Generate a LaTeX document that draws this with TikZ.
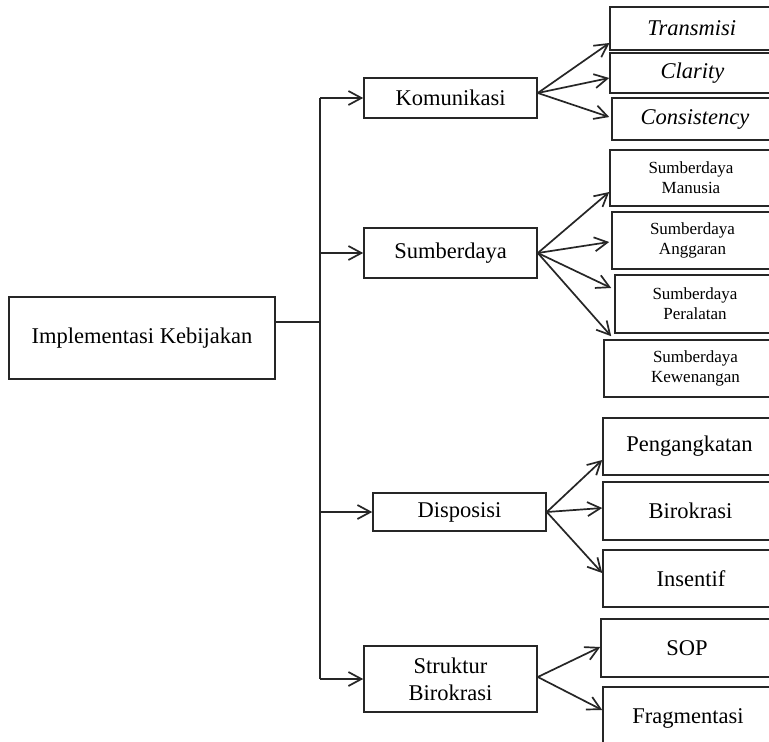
\documentclass[tikz,border=0pt]{standalone}
\usepackage{fontspec}
\setmainfont{Liberation Serif}
\usetikzlibrary{arrows.meta}
\begin{document}
\begin{tikzpicture}[x=1pt,y=-1pt,
  box/.style={draw=black!85, line width=1.6pt, inner sep=0pt, align=center, font=\fontsize{22.5}{27}\selectfont},
  sbox/.style={box, font=\fontsize{17}{20}\selectfont},
  ibox/.style={box, font=\fontsize{22.5}{27}\selectfont\itshape},
  arr/.style={draw=black!85, line width=1.7pt, -{Straight Barb[length=13pt,width=14pt,line width=1.7pt]}},
  ln/.style={draw=black!85, line width=1.7pt}]
\clip (0,0) rectangle (769,742);
\fill[white] (0,0) rectangle (769,742);
% left
\node[box, minimum width=266pt, minimum height=82pt] (main) at (142,338) {Implementasi Kebijakan};
% middle column
\node[box, minimum width=173pt, minimum height=40pt] (kom) at (450.5,98) {Komunikasi};
\node[box, minimum width=173pt, minimum height=50pt] (sum) at (450.5,253) {Sumberdaya};
\node[box, minimum width=173pt, minimum height=38pt] (dis) at (459.5,512) {Disposisi};
\node[box, minimum width=173pt, minimum height=66pt] (str) at (450.5,679) {Struktur\\Birokrasi};
% right column
\node[ibox, minimum width=163pt, minimum height=43pt] (tra) at (691.7,28.5) {Transmisi};
\node[ibox, minimum width=165pt, minimum height=40pt] (cla) at (692.5,73) {Clarity};
\node[ibox, minimum width=166pt, minimum height=42pt] (con) at (695,119) {Consistency};
\node[sbox, minimum width=162pt, minimum height=56pt] (man) at (691,178) {Sumberdaya\\Manusia};
\node[sbox, minimum width=161pt, minimum height=57pt] (ang) at (692.5,240.5) {Sumberdaya\\Anggaran};
\node[sbox, minimum width=160pt, minimum height=58pt] (per) at (695,304) {Sumberdaya\\Peralatan};
\node[sbox, minimum width=183pt, minimum height=57pt] (kew) at (695.5,368.5) {Sumberdaya\\Kewenangan};
\node[box, minimum width=173pt, minimum height=57pt] (pen) at (689.5,446.5) {Pengangkatan};
\node[box, minimum width=175pt, minimum height=58pt] (bir) at (690.5,511) {Birokrasi};
\node[box, minimum width=176pt, minimum height=57pt] (ins) at (691,578.5) {Insentif};
\node[box, minimum width=172pt, minimum height=58pt] (sop) at (687,648) {SOP};
\node[box, minimum width=170pt, minimum height=63pt] (fra) at (688,718.5) {Fragmentasi};
% trunk
\coordinate (j) at (320,322);
\coordinate (t1) at (j |- kom.west);
\coordinate (t4) at (j |- str.west);
\draw[ln] (main.east |- j) -- (j);
\draw[ln] (t1) -- (t4);
\draw[arr] (t1) -- (kom.west);
\draw[arr] (j |- sum.west) -- (sum.west);
\draw[arr] (j |- dis.west) -- (dis.west);
\draw[arr] (t4) -- (str.west);
% Komunikasi fan
\coordinate (ko) at ([yshift=5pt]kom.east);
\draw[arr] (ko) -- ([yshift=-14.5pt]tra.west);
\draw[arr] (ko) -- ([yshift=-5pt]cla.west);
\draw[arr] (ko) -- ([yshift=2pt,xshift=-2pt]con.west);
% Sumberdaya fan
\draw[arr] (sum.east) -- ([yshift=-14pt]man.west);
\draw[arr] (sum.east) -- ([yshift=-1.5pt,xshift=-2pt]ang.west);
\draw[arr] (sum.east) -- ([yshift=16pt,xshift=-3pt]per.west);
\draw[arr] (sum.east) -- ([xshift=8pt,yshift=3pt]kew.north west);
% Disposisi fan
\draw[arr] (dis.east) -- ([yshift=-13.5pt]pen.west);
\draw[arr] (dis.east) -- ([yshift=3pt]bir.west);
\draw[arr] (dis.east) -- ([yshift=5.5pt]ins.west);
% Struktur fan
\coordinate (so) at ([yshift=2pt]str.east);
\draw[arr] (so) -- ([yshift=1pt]sop.west);
\draw[arr] (so) -- ([yshift=8.5pt]fra.west);
\end{tikzpicture}
\end{document}
